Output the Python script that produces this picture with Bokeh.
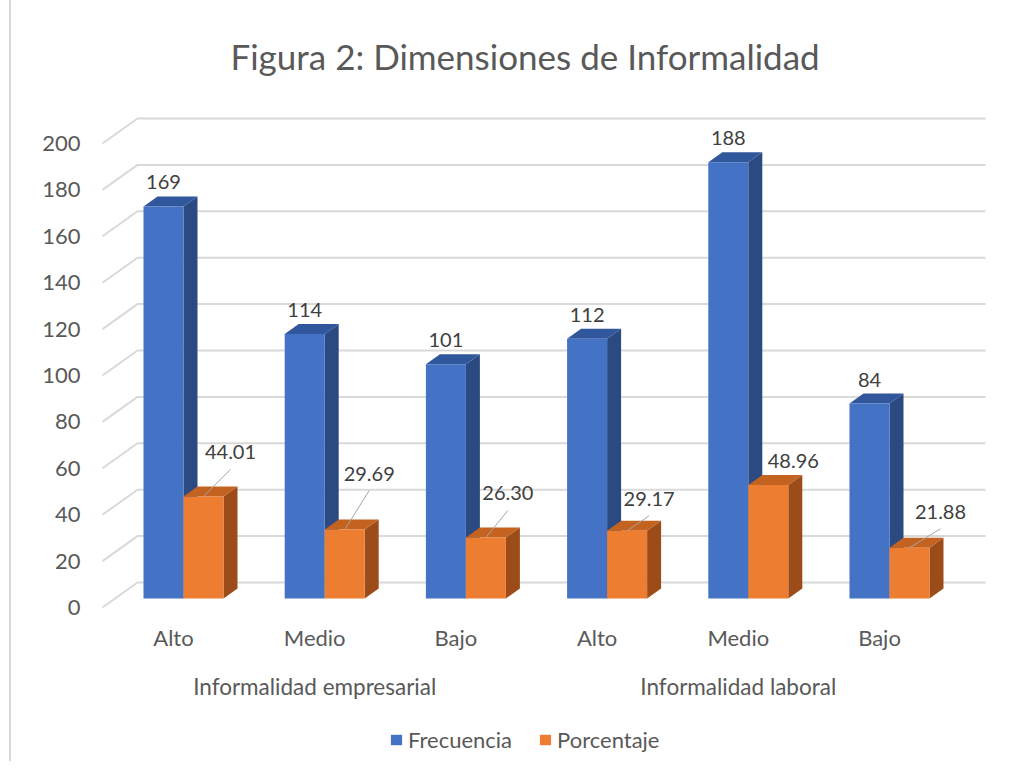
from bokeh.plotting import figure
from bokeh.models import Range1d, LinearAxis, FixedTicker, Legend, LegendItem, Div
from bokeh.layouts import row
from bokeh.core.properties import value
from bokeh.embed import file_html
from bokeh.resources import INLINE

# ---------------- data ----------------
groups = ["Informalidad empresarial", "Informalidad laboral"]
levels = ["Alto", "Medio", "Bajo", "Alto", "Medio", "Bajo"]
frecuencia = [169, 114, 101, 112, 188, 84]
porcentaje = [44.01, 29.69, 26.30, 29.17, 48.96, 21.88]
series = ["Frecuencia", "Porcentaje"]
y_ticks = [0, 20, 40, 60, 80, 100, 120, 140, 160, 180, 200]
title = "Figura 2: Dimensiones de Informalidad"

# ---------------- layout / style (pixels, page coordinates) ----------------
OX = 11                            # figure starts after the chart-area border
W, H = 1006 - OX, 753
FL, FR, FT, FB = 95, 1000, 95, 753 # frame edges
X0_PX, PX_X = 183.0, 141.2         # x of first category centre, px per category
Y0_PX, PX_Y = 598.0, 2.32          # y of value 0 (bar base), px per unit
BW = 40 / PX_X                     # bar width
DX, DY = 14 / PX_X, 10 / PX_Y      # 3D depth of bars
FRONT_OFF = 9 / PX_Y               # front grid edge below bar base
GRID_BACK_DX, GRID_BACK_DY = 35 / PX_X, 25 / PX_Y
GRID_FRONT_X = (102 - X0_PX) / PX_X
GRID_END_X = (985 - X0_PX) / PX_X
LABEL_SHIFT = 10 / PX_X
CAT_Y = -(637 - Y0_PX) / PX_Y
GRP_Y = -(686 - Y0_PX) / PX_Y

# orange label placement (px offsets from pair centre / bar top)
o_dx = [47, 44.5, 42, 42, 45, 51]
o_dy = [44, 56, 44, 32, 24, 36]
o_leader = [True, True, True, True, False, True]

FONT = value("Lato")
TXT = "#595959"
LBL = "#404040"
BLUE = ("#4472C4", "#2B4A82", "#30579C")     # front, side, top
ORANGE = ("#ED7D31", "#9C4C18", "#C4621F")

x_start = (FL - X0_PX) / PX_X
x_end = (FR - X0_PX) / PX_X
y_start = -(FB - Y0_PX) / PX_Y
y_end = (Y0_PX - FT) / PX_Y

p = figure(width=W, height=H, output_backend="svg", toolbar_location=None,
           x_range=Range1d(x_start, x_end), y_range=Range1d(y_start, y_end),
           x_axis_location=None, y_axis_location=None,
           min_border_left=FL - OX, min_border_right=OX + W - FR,
           min_border_top=FT, min_border_bottom=H - FB,
           outline_line_color=None, background_fill_color="white",
           border_fill_color="white", margin=0)
p.grid.visible = False

p.extra_y_ranges = {"front": Range1d(y_start + FRONT_OFF, y_end + FRONT_OFF)}

# ---------------- gridlines (side wall + back wall) ----------------
gx, gy = [], []
for t in y_ticks:
    gx.append([GRID_FRONT_X, GRID_FRONT_X + GRID_BACK_DX, GRID_END_X])
    gy.append([t - FRONT_OFF, t - FRONT_OFF + GRID_BACK_DY, t - FRONT_OFF + GRID_BACK_DY])
p.multi_line(gx, gy, line_color="#D9D9D9", line_width=2)

# ---------------- 3D bars ----------------
n = len(levels)
legend_renderers = []
for vals, offs, cols in ((frecuencia, -BW, BLUE), (porcentaje, 0.0, ORANGE)):
    left = [i + offs for i in range(n)]
    right = [l + BW for l in left]
    side_x = [[r, r + DX, r + DX, r] for r in right]
    side_y = [[0, DY, v + DY, v] for v in vals]
    top_x = [[l, l + DX, r + DX, r] for l, r in zip(left, right)]
    top_y = [[v, v + DY, v + DY, v] for v in vals]
    p.patches(side_x, side_y, fill_color=cols[1], line_color=None)
    p.patches(top_x, top_y, fill_color=cols[2], line_color=None)
    r = p.quad(left=left, right=right, bottom=[0] * n, top=vals,
               fill_color=cols[0], line_color=None)
    legend_renderers.append(r)

# ---------------- data labels ----------------
p.text(x=[i - BW / 2 for i in range(n)], y=[v + 24 / PX_Y for v in frecuencia],
       text=[str(v) for v in frecuencia], text_align="center", text_baseline="middle",
       text_font=FONT, text_font_size="20px", text_color=LBL)
lx = [i + d / PX_X for i, d in zip(range(n), o_dx)]
ly = [v + d / PX_Y for v, d in zip(porcentaje, o_dy)]
p.text(x=lx, y=ly, text=[f"{v:.2f}" for v in porcentaje], text_align="center",
       text_baseline="middle", text_font=FONT, text_font_size="20px", text_color=LBL)
sx0, sy0, sx1, sy1 = [], [], [], []
for i in range(n):
    if o_leader[i]:
        sx0.append(lx[i]); sy0.append(ly[i] - 17 / PX_Y)
        sx1.append(i + 20 / PX_X); sy1.append(porcentaje[i])
p.segment(sx0, sy0, sx1, sy1, line_color="#A6A6A6", line_width=1)

# ---------------- category and group labels ----------------
p.text(x=[i - LABEL_SHIFT for i in range(n)], y=[CAT_Y] * n, text=levels,
       text_align="center", text_baseline="middle", text_font=FONT,
       text_font_size="22px", text_color=TXT)
gpos = [sum(range(k * 3, k * 3 + 3)) / 3 - LABEL_SHIFT for k in range(len(groups))]
p.text(x=gpos, y=[GRP_Y] * len(groups), text=groups, text_align="center",
       text_baseline="middle", text_font=FONT, text_font_size="22.5px", text_color=TXT)

# ---------------- y axis ----------------
yaxis = LinearAxis(y_range_name="front", ticker=FixedTicker(ticks=y_ticks))
yaxis.axis_line_color = None
yaxis.major_tick_line_color = None
yaxis.minor_tick_line_color = None
yaxis.major_label_standoff = 9
yaxis.major_label_text_font = "Lato"
yaxis.major_label_text_font_size = "22px"
yaxis.major_label_text_color = TXT
p.add_layout(yaxis, "left")

# ---------------- legend ----------------
legend = Legend(items=[LegendItem(label=s, renderers=[r]) for s, r in zip(series, legend_renderers)],
                orientation="horizontal", location=(389 - FL, 0), border_line_color=None,
                background_fill_alpha=0,
                glyph_width=14, glyph_height=13, label_standoff=5, spacing=26,
                label_text_font="Lato", label_text_font_size="22px", label_text_color=TXT,
                padding=0, margin=0)
p.add_layout(legend)

# ---------------- title ----------------
p.title.text = title
p.title.align = "left"
p.title.offset = 230 - FL
p.title.text_font = "Lato"
p.title.text_font_size = "35px"
p.title.text_font_style = "normal"
p.title.text_color = TXT
p.title.standoff = 38

# chart-area border on the left
border = Div(text="", width=2, height=761, margin=(0, 0, 0, 9),
             styles={"background-color": "#D9D9D9"})
layout = row(border, p, spacing=0, margin=0)

open("out.html", "w").write(file_html(layout, INLINE))
